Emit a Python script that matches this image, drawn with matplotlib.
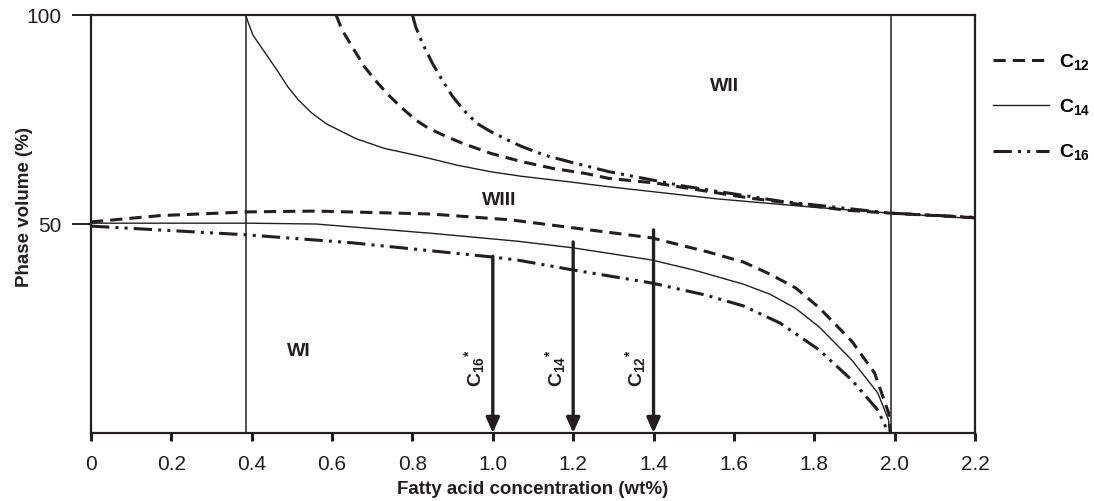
import numpy as np
import matplotlib
matplotlib.use('Agg')
import matplotlib.pyplot as plt
from matplotlib.lines import Line2D

plt.rcParams['font.family'] = ['Liberation Sans', 'DejaVu Sans']
plt.rcParams['mathtext.fontset'] = 'custom'
plt.rcParams['mathtext.rm'] = 'Liberation Sans'
plt.rcParams['mathtext.bf'] = 'Liberation Sans:bold'
plt.rcParams['mathtext.it'] = 'Liberation Sans:italic'
plt.rcParams['axes.linewidth'] = 1.6

ink = '#231f20'

#--------------data--------------------------------------------------------
# upper boundary (WIII / WII)
x_c12_up = [0.61, 0.625, 0.65, 0.68, 0.71, 0.74, 0.77, 0.808, 0.84, 0.885, 0.925, 0.995,
            1.073, 1.15, 1.23, 1.29, 1.405, 1.64, 1.88, 1.99, 2.2]
y_c12_up = [100, 96.4, 92.4, 87.7, 84.1, 80.9, 78.1, 74.9, 72.9, 70.9, 69.3, 66.9,
            64.9, 63.3, 62.1, 60.9, 59.8, 56.2, 53.3, 52.6, 51.5]
x_c14_up = [0.385, 0.392, 0.403, 0.42, 0.44, 0.463, 0.49, 0.516, 0.55, 0.587, 0.66,
            0.73, 0.825, 0.91, 0.995, 1.073, 1.19, 1.29, 1.56, 1.80, 1.99, 2.2]
y_c14_up = [100, 98, 95.2, 92.8, 90, 86.8, 82.8, 79.7, 76.5, 73.9, 70.4,
            68.1, 66.1, 64.1, 62.5, 61.4, 60.1, 58.9, 56, 54, 52.6, 51.3]
x_c16_up = [0.80, 0.808, 0.825, 0.85, 0.876, 0.90, 0.927, 0.96, 0.995, 1.037, 1.073, 1.128,
            1.19, 1.29, 1.48, 1.72, 1.99, 2.2]
y_c16_up = [100, 97.2, 93.2, 88.4, 84.1, 80.5, 77.3, 74.1, 72.1, 70.1, 68.5, 66.5,
            64.9, 62.5, 59, 55.4, 52.6, 51.6]

# lower boundary (WI / WIII)
x_c12_lo = [0, 0.17, 0.39, 0.56, 0.845, 1.044, 1.395, 1.536, 1.624, 1.69, 1.754, 1.812, 1.893, 1.95, 1.985, 1.99]
y_c12_lo = [50.5, 52.0, 52.9, 53.1, 52.4, 51, 46.7, 43.3, 40.9, 38.0, 34.7, 30, 22, 14.4, 4.8, 0]
x_c14_lo = [0, 0.39, 0.56, 0.845, 1.06, 1.2, 1.395, 1.5, 1.624, 1.69, 1.754, 1.812, 1.893, 1.958, 1.985, 1.987]
y_c14_lo = [50.2, 50.2, 50, 47.8, 45.9, 44.3, 41.4, 39, 35.6, 33.2, 29.8, 25.4, 17.5, 9.6, 3.1, 0]
x_c16_lo = [0, 0.39, 0.65, 1.0, 1.06, 1.2, 1.395, 1.53, 1.624, 1.715, 1.812, 1.893, 1.958, 1.985]
y_c16_lo = [49.5, 47.4, 45.5, 42.1, 41.4, 39, 35.9, 33, 30.4, 26.3, 19.9, 12.7, 5.5, 0]

# boundaries of the three-phase region
x_vlines = [0.385, 1.99]

# critical concentrations
x_crit = [1.0, 1.2, 1.4]
y_crit_top = [42.3, 45.7, 48.6]
crit_labels = [r'$\mathbf{C_{16}{}^{*}}$', r'$\mathbf{C_{14}{}^{*}}$', r'$\mathbf{C_{12}{}^{*}}$']

x_ticks = [0, 0.2, 0.4, 0.6, 0.8, 1.0, 1.2, 1.4, 1.6, 1.8, 2.0, 2.2]
x_ticklabels = ['0', '0.2', '0.4', '0.6', '0.8', '1.0', '1.2', '1.4', '1.6', '1.8', '2.0', '2.2']
y_ticks = [50, 100]

#--------------styles----------------------------------
c12_style = dict(color=ink, lw=2.2, linestyle=(0, (4, 2.3)))
c14_style = dict(color=ink, lw=1.0, linestyle='-')
c16_style = dict(color=ink, lw=2.2, linestyle=(0, (6, 2, 1, 2, 1, 2)))

fig = plt.figure(figsize=(10.94, 5.01), dpi=100)
ax = fig.add_axes([0.0832, 0.1357, 0.8080, 0.8343])

ax.plot(x_c12_up, y_c12_up, **c12_style)
ax.plot(x_c14_up, y_c14_up, **c14_style)
ax.plot(x_c16_up, y_c16_up, **c16_style)
ax.plot(x_c12_lo, y_c12_lo, **c12_style)
ax.plot(x_c14_lo, y_c14_lo, **c14_style)
ax.plot(x_c16_lo, y_c16_lo, **c16_style)

for xv in x_vlines:
    ax.plot([xv, xv], [0, 100], color=ink, lw=1.1)

#---arrows at the critical concentrations-----------------
for xc, yt, lab in zip(x_crit, y_crit_top, crit_labels):
    ax.annotate('', xy=(xc, 0), xytext=(xc, yt),
                arrowprops=dict(arrowstyle='-|>,head_length=0.45,head_width=0.2',
                                lw=2.4, color=ink, shrinkA=0, shrinkB=0,
                                mutation_scale=20), zorder=5)
    ax.text(xc - 0.045, 15.5, lab, rotation=90, ha='center', va='center',
            fontsize=14, color=ink)

#---region labels-----------------
ax.text(1.576, 82.8, 'WII', fontsize=14, fontweight='bold', ha='center', va='center', color=ink)
ax.text(1.015, 55.7, 'WIII', fontsize=14, fontweight='bold', ha='center', va='center', color=ink)
ax.text(0.5175, 19.4, 'WI', fontsize=14, fontweight='bold', ha='center', va='center', color=ink)

#---axes formatting-----------------
ax.set_xlim(0, 2.2)
ax.set_ylim(0, 100)
ax.set_xticks(x_ticks)
ax.set_xticklabels(x_ticklabels)
ax.set_yticks(y_ticks)
ax.tick_params(axis='x', direction='out', length=6, width=2.2, pad=10, labelsize=15, color=ink, labelcolor=ink)
ax.tick_params(axis='y', direction='out', length=14, width=1.4, pad=7, labelsize=15, color=ink, labelcolor=ink)
for sp in ax.spines.values():
    sp.set_color(ink)

ax.set_xlabel('Fatty acid concentration (wt%)', fontsize=13.5, fontweight='bold', color=ink, labelpad=5)
ax.set_ylabel('Phase volume (%)', fontsize=13.5, fontweight='bold', color=ink)
ax.yaxis.set_label_coords(-0.0656, 0.54)

#---legend-----------------
handles = [Line2D([], [], **c12_style), Line2D([], [], **c14_style), Line2D([], [], **c16_style)]
labels = [r'$\mathbf{C_{12}}$', r'$\mathbf{C_{14}}$', r'$\mathbf{C_{16}}$']
fig.legend(handles, labels, loc='upper left', bbox_to_anchor=(0.9006, 0.912),
           frameon=False, fontsize=14, handlelength=2.9, handletextpad=0.5,
           labelspacing=1.3, borderaxespad=0)

fig.savefig('out.png', dpi=100)
